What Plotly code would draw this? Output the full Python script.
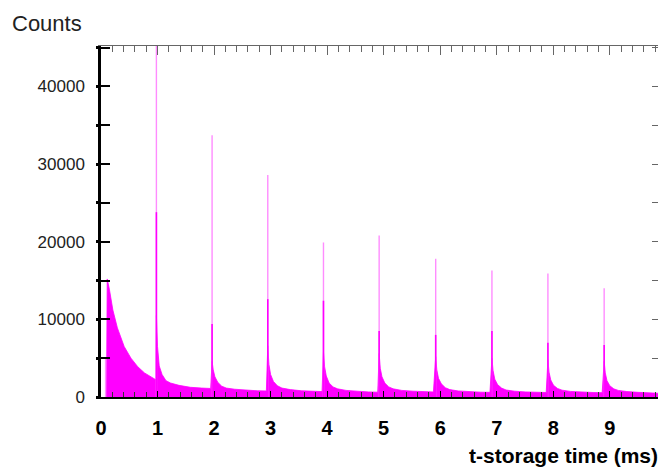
import plotly.graph_objects as go

# ---------------- data ----------------
x_tick_vals = [0, 1, 2, 3, 4, 5, 6, 7, 8, 9]
y_tick_vals = [0, 10000, 20000, 30000, 40000]

# first (injection) bin and the first decaying hump
first_bin_t = [0.08]
first_bin_counts = [5000]
hump_t = [0.097, 0.099, 0.11, 0.15, 0.21, 0.29, 0.41, 0.53, 0.65, 0.77, 0.88, 0.975]
hump_counts = [0, 13000, 15200, 13800, 11200, 8900, 6500, 5000, 3900, 3100, 2600, 2200]

# periodic spikes (ms), single-bin peak and second-bin height
spike_t = [0.98, 1.965, 2.95, 3.935, 4.92, 5.92, 6.915, 7.905, 8.90]
spike_peak = [46000, 33700, 28600, 19900, 20800, 17800, 16300, 15900, 14000]
spike_second = [23800, 9400, 12600, 12400, 8500, 8000, 8500, 7000, 6700]

# decay after each spike: offsets (ms) and counts
decay_dt = [0.0, 0.02, 0.05, 0.1, 0.17, 0.25, 0.4, 0.6, 0.8, 0.96]
decay_counts = [
    [10500, 6500, 4000, 2900, 2100, 1800, 1500, 1250, 1150, 1100],
    [4600, 3500, 2600, 1900, 1400, 1150, 1000, 880, 800, 780],
    [6600, 4200, 2900, 2000, 1450, 1150, 950, 800, 720, 700],
    [5800, 3900, 2700, 1800, 1300, 1050, 850, 720, 650, 620],
    [5600, 3700, 2600, 1800, 1300, 1050, 850, 750, 680, 650],
    [5200, 3500, 2400, 1700, 1200, 950, 780, 680, 620, 600],
    [5000, 3400, 2300, 1600, 1150, 900, 750, 650, 600, 580],
    [4800, 3200, 2200, 1500, 1100, 880, 720, 620, 580, 560],
    [4600, 3100, 2100, 1450, 1050, 850, 700, 600, 540, 480],
]

x_range = [0, 9.87]
y_range = [0, 45200]

MAGENTA = "#ff00ff"
PALE = "#ff8cff"
FONT = "Liberation Sans"

# ---------------- build traces ----------------
env_x = list(hump_t)
env_y = list(hump_counts)
for t, seg in zip(spike_t, decay_counts):
    for dt, c in zip(decay_dt, seg):
        env_x.append(round(t + dt, 4))
        env_y.append(c)
env_x.append(env_x[-1])
env_y.append(0)


def vlines(ts, hs):
    xs, ys = [], []
    for t, h in zip(ts, hs):
        xs += [t, t, None]
        ys += [0, h, None]
    return xs, ys


fig = go.Figure()

fig.add_trace(go.Scatter(
    x=env_x, y=env_y, mode="lines", line=dict(color=MAGENTA, width=0.8),
    fill="tozeroy", fillcolor=MAGENTA, hoverinfo="skip", showlegend=False))

px_, py_ = vlines(spike_t, spike_peak)
fig.add_trace(go.Scatter(x=px_, y=py_, mode="lines",
                         line=dict(color=PALE, width=1.4), showlegend=False))
sx_, sy_ = vlines(spike_t, spike_second)
fig.add_trace(go.Scatter(x=sx_, y=sy_, mode="lines",
                         line=dict(color=MAGENTA, width=1.6), showlegend=False))
fx_, fy_ = vlines(first_bin_t, first_bin_counts)
fig.add_trace(go.Scatter(x=fx_, y=fy_, mode="lines",
                         line=dict(color=PALE, width=1.3), showlegend=False))

# invisible traces to carry the mirror axes
fig.add_trace(go.Scatter(x=[None], y=[None], xaxis="x2", yaxis="y2",
                         showlegend=False, hoverinfo="skip"))
fig.add_trace(go.Scatter(x=[None], y=[None], xaxis="x", yaxis="y3",
                         showlegend=False, hoverinfo="skip"))

fig.update_layout(
    width=658, height=460,
    margin=dict(l=93, r=7, t=38, b=71),
    plot_bgcolor="white", paper_bgcolor="white",
    showlegend=False,
    xaxis=dict(
        range=x_range, tickvals=x_tick_vals, showgrid=False, zeroline=False,
        showline=True, linecolor="black", linewidth=1.5,
        ticks="inside", ticklen=6, tickcolor="black", tickwidth=1,
        minor=dict(dtick=0.2, ticks="inside", ticklen=5, tickcolor="#333", tickwidth=1),
        tickfont=dict(family=FONT, size=20, color="black", weight="bold"),
        ticklabelstandoff=12,
    ),
    xaxis2=dict(
        overlaying="x", side="top", anchor="y", range=x_range, tickvals=x_tick_vals,
        showgrid=False, zeroline=False, showline=True, linecolor="#666", linewidth=1,
        ticks="inside", ticklen=9, tickcolor="#666", showticklabels=False,
        minor=dict(dtick=0.2, ticks="inside", ticklen=6, tickcolor="#666"),
    ),
    yaxis=dict(
        range=y_range, tickvals=y_tick_vals, tickformat="d", showgrid=False,
        zeroline=False, showline=True, linecolor="black", linewidth=2.5,
        ticks="inside", ticklen=9, tickcolor="black", tickwidth=1.5,
        minor=dict(dtick=5000, ticks="inside", ticklen=9, tickcolor="black", tickwidth=1.5),
        tickfont=dict(family=FONT, size=17, color="#222"),
        ticklabelstandoff=10,
    ),
    yaxis2=dict(
        overlaying="y", side="right", anchor="x2", range=y_range, showgrid=False,
        zeroline=False, showline=True, linecolor="#666", linewidth=1,
        ticks="inside", ticklen=7, tickcolor="#666", dtick=5000,
        showticklabels=False,
    ),
    yaxis3=dict(
        overlaying="y", side="left", anchor="x", range=y_range, showgrid=False,
        zeroline=False, showline=False, ticks="outside", ticklen=4,
        tickcolor="black", tickwidth=2.5, dtick=5000, showticklabels=False,
    ),
    annotations=[
        dict(text="Counts", xref="paper", yref="paper", x=-0.163, y=1.063,
             xanchor="left", yanchor="middle", showarrow=False,
             font=dict(family=FONT, size=22, color="#222")),
        dict(text="t-storage time (ms)", xref="paper", yref="paper", x=1.002, y=-0.168,
             xanchor="right", yanchor="middle", showarrow=False,
             font=dict(family=FONT, size=21, color="black", weight="bold")),
    ],
)

fig.write_html("out.html")
